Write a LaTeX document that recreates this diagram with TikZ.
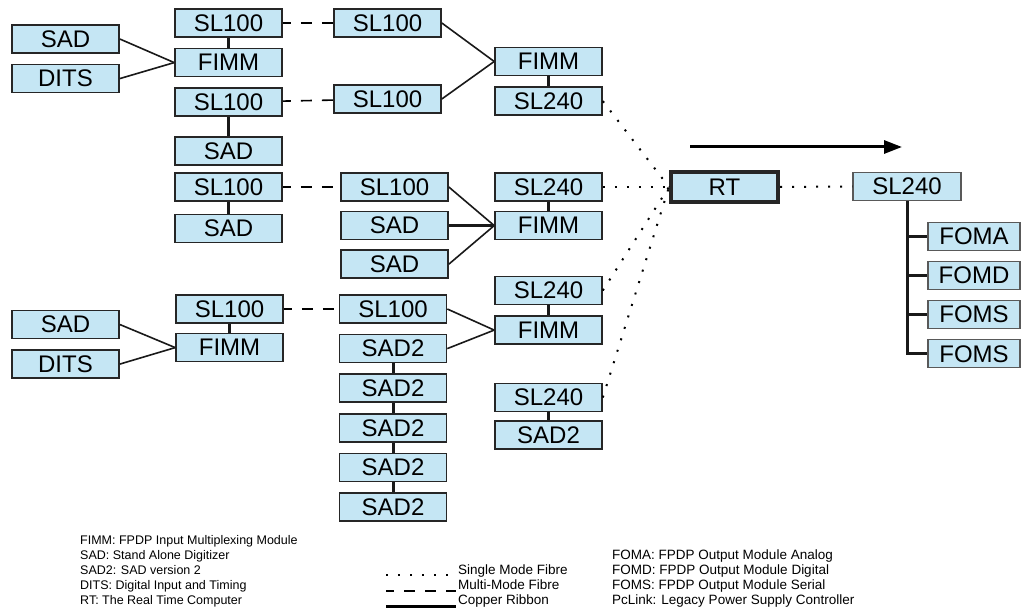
\documentclass[tikz,border=0pt]{standalone}
\usepackage{fontspec}
\setmainfont{Liberation Sans}
\usetikzlibrary{arrows.meta,positioning}
\definecolor{boxblue}{RGB}{197,230,244}

\begin{document}
\begin{tikzpicture}[
    x=1pt, y=-1pt,
    node distance=10pt,
    every node/.style={font=\fontsize{24}{24}\selectfont},
    unit/.style={draw=black!85, fill=boxblue, line width=1.6pt, minimum width=107pt, minimum height=28pt, inner sep=0pt},
    outunit/.style={unit, draw=black!65, line width=1.1pt},
    rtbox/.style={unit, line width=4pt, minimum width=107pt, minimum height=30pt},
    ribbon/.style={line width=1.6pt, black!90},
    stub/.style={line width=3pt, black!90},
    mmf/.style={line width=1.6pt, dash pattern=on 11pt off 10pt, dash phase=3pt},
    smf/.style={line width=2pt, dash pattern=on 2pt off 10pt},
    flow/.style={line width=3pt, -{Triangle[length=18pt,width=13pt]}},
    legend/.style={font=\fontsize{12.5}{15}\selectfont, anchor=base west, inner sep=0pt},
    legendb/.style={legend, font=\fontsize{13.5}{15}\selectfont},
]
\useasboundingbox (0,0) rectangle (1030,609);

% upper branch
\node[unit] (sadA) at (65.5,39) {SAD};
\node[unit, below=of sadA] (ditsA) {DITS};
\node[unit] (linkA) at (228.5,23) {SL100};
\node[unit, below=of linkA] (fimmA) {FIMM};
\node[unit, below=of fimmA] (linkB) {SL100};
\node[unit, below=19pt of linkB] (sadB) {SAD};
\node[unit] (linkC) at (387.5,23) {SL100};
\node[unit] (linkD) at (387.5,99) {SL100};
\node[unit] (fimmB) at (548.5,61.5) {FIMM};
\node[unit, below=of fimmB] (relA) {SL240};

% middle branch
\node[unit] (linkE) at (228.5,187) {SL100};
\node[unit, below=12pt of linkE] (sadC) {SAD};
\node[unit] (linkF) at (394.5,187) {SL100};
\node[unit, below=9pt of linkF] (sadD) {SAD};
\node[unit, below=9pt of sadD] (sadE) {SAD};
\node[unit] (relB) at (548.5,187) {SL240};
\node[unit, below=9pt of relB] (fimmC) {FIMM};

% lower branch
\node[unit] (sadF) at (65.5,324.5) {SAD};
\node[unit, below=of sadF] (ditsB) {DITS};
\node[unit] (linkG) at (229.5,309) {SL100};
\node[unit, below=9pt of linkG] (fimmD) {FIMM};
\node[unit] (linkH) at (393,309) {SL100};
\node[unit, below=of linkH] (sadtA) {SAD2};
\node[unit, below=of sadtA] (sadtB) {SAD2};
\node[unit, below=of sadtB] (sadtC) {SAD2};
\node[unit, below=of sadtC] (sadtD) {SAD2};
\node[unit, below=of sadtD] (sadtE) {SAD2};
\node[unit] (relC) at (548.5,290.5) {SL240};
\node[unit, below=of relC] (fimmE) {FIMM};
\node[unit] (relD) at (548.5,397.5) {SL240};
\node[unit, below=8pt of relD] (sadtF) {SAD2};

% real time side
\node[rtbox] (rt) at (724.5,187) {RT};
\node[outunit, minimum width=108pt] (relE) at (907,186.5) {SL240};
\node[outunit, minimum width=92pt] (foma) at (974,236.5) {FOMA};
\node[outunit, minimum width=92pt, below=of foma] (fomd) {FOMD};
\node[outunit, minimum width=92pt, below=of fomd] (fomsA) {FOMS};
\node[outunit, minimum width=92pt, below=of fomsA] (fomsB) {FOMS};
\coordinate (flowA) at (690,147);
\coordinate (flowB) at (902,147);
\draw[flow] (flowA) -- (flowB);

% copper
\draw[ribbon] (sadA.east) -- (fimmA.west);
\draw[ribbon] (ditsA.east) -- (fimmA.west);
\draw[stub] (linkA) -- (fimmA);
\draw[stub] (linkB) -- (sadB);
\draw[ribbon] (linkC.east) -- (fimmB.west);
\draw[ribbon] (linkD.east) -- (fimmB.west);
\draw[stub] (fimmB) -- (relA);
\draw[stub] (linkE) -- (sadC);
\draw[ribbon] (linkF.east) -- (fimmC.west);
\draw[stub] (sadD.east) -- (fimmC.west);
\draw[ribbon] (sadE.east) -- (fimmC.west);
\draw[stub] (relB) -- (fimmC);
\draw[ribbon] (sadF.east) -- (fimmD.west);
\draw[ribbon] (ditsB.east) -- (fimmD.west);
\draw[stub] (linkG) -- (fimmD);
\draw[ribbon] (linkH.east) -- (fimmE.west);
\draw[ribbon] (sadtA.east) -- (fimmE.west);
\draw[stub] (sadtA) -- (sadtB);
\draw[stub] (sadtB) -- (sadtC);
\draw[stub] (sadtC) -- (sadtD);
\draw[stub] (sadtD) -- (sadtE);
\draw[stub] (relC) -- (fimmE);
\draw[stub] (relD) -- (sadtF);
\draw[stub] (relE.south) |- (foma.west);
\draw[stub] (relE.south) |- (fomd.west);
\draw[stub] (relE.south) |- (fomsA.west);
\draw[stub] (relE.south) |- (fomsB.west);

% fibre
\draw[mmf] (linkA) -- (linkC);
\draw[mmf] (linkB) -- (linkD);
\draw[mmf] (linkE) -- (linkF);
\draw[mmf] (linkG) -- (linkH);
\draw[smf] (relA.east) -- (rt.west);
\draw[smf] (relB.east) -- (rt.west);
\draw[smf] (relC.east) -- (rt.west);
\draw[smf] (relD.east) -- (rt.west);
\draw[smf] (rt.east) -- (relE.west);

% key
\node[legend] (keyA) at (80,544) {FIMM: FPDP Input Multiplexing Module};
\node[legend] (keyB) at (80,559) {SAD: Stand Alone Digitizer};
\node[legend] (keyC) at (80,574) {SAD2: SAD version 2};
\node[legend] (keyD) at (80,589) {DITS: Digital Input and Timing};
\node[legend] (keyE) at (80,604) {RT: The Real Time Computer};
\node[legendb] (keyF) at (458,574) {Single Mode Fibre};
\node[legendb] (keyG) at (458,589) {Multi-Mode Fibre};
\node[legendb] (keyH) at (458,604) {Copper Ribbon};
\node[legendb] (keyI) at (612,559) {FOMA: FPDP Output Module Analog};
\node[legendb] (keyJ) at (612,574) {FOMD: FPDP Output Module Digital};
\node[legendb] (keyK) at (612,589) {FOMS: FPDP Output Module Serial};
\node[legendb] (keyL) at (612,604) {PcLink: Legacy Power Supply Controller};
\coordinate (smfA) at (386,575);
\coordinate (smfB) at (456,575);
\coordinate (mmfA) at (386,591);
\coordinate (mmfB) at (456,591);
\coordinate (cuA) at (386,606.5);
\coordinate (cuB) at (456,606.5);
\draw[smf] (smfA) -- (smfB);
\draw[mmf] (mmfA) -- (mmfB);
\draw[line width=3pt] (cuA) -- (cuB);
\end{tikzpicture}
\end{document}
